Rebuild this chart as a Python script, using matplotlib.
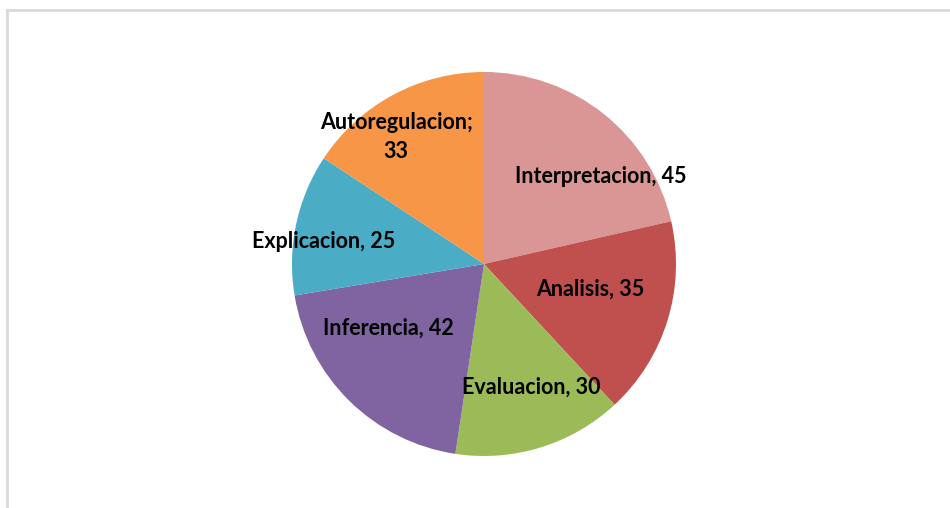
import matplotlib
matplotlib.use("Agg")
import matplotlib.pyplot as plt
from matplotlib.lines import Line2D

categories = ["Interpretacion", "Analisis", "Evaluacion", "Inferencia", "Explicacion", "Autoregulacion"]
values = [45, 35, 30, 42, 25, 33]
colors = ["#D99694", "#C0504D", "#9BBB59", "#8064A2", "#4BACC6", "#F79646"]
label_texts = ["Interpretacion, 45", "Analisis, 35", "Evaluacion, 30", "Inferencia, 42",
               "Explicacion, 25", "Autoregulacion;\n33"]
# label positions in pie (radius=1) units
label_pos = [(0.609, 0.458), (0.552, -0.130), (0.245, -0.641), (-0.50, -0.333),
             (-0.833, 0.115), (-0.458, 0.661)]

W, H = 950, 508
fig = plt.figure(figsize=(W / 100, H / 100), dpi=100)
fig.patch.set_facecolor("white")

cx, cy, r = 484, 264, 192
ax = fig.add_axes([(cx - r) / W, (H - cy - r) / H, 2 * r / W, 2 * r / H])
ax.pie(values, colors=colors, startangle=90, counterclock=False, radius=1,
       wedgeprops=dict(linewidth=0))
ax.set_xlim(-1, 1)
ax.set_ylim(-1, 1)
ax.set_aspect("equal")
ax.axis("off")

for txt, (x, y) in zip(label_texts, label_pos):
    ax.text(x, y, txt, ha="center", va="center", fontsize=15.5, fontweight="bold",
            family=["Lato", "DejaVu Sans"], color="black", linespacing=1.45)

# chart area frame (top and left edges visible)
fig.add_artist(Line2D([7 / W, 7 / W], [0, 1 - 10 / H], transform=fig.transFigure,
                      color="#D9D9D9", linewidth=2))
fig.add_artist(Line2D([7 / W, 1], [1 - 10 / H, 1 - 10 / H], transform=fig.transFigure,
                      color="#D9D9D9", linewidth=2))

fig.savefig("out.png", dpi=100)
